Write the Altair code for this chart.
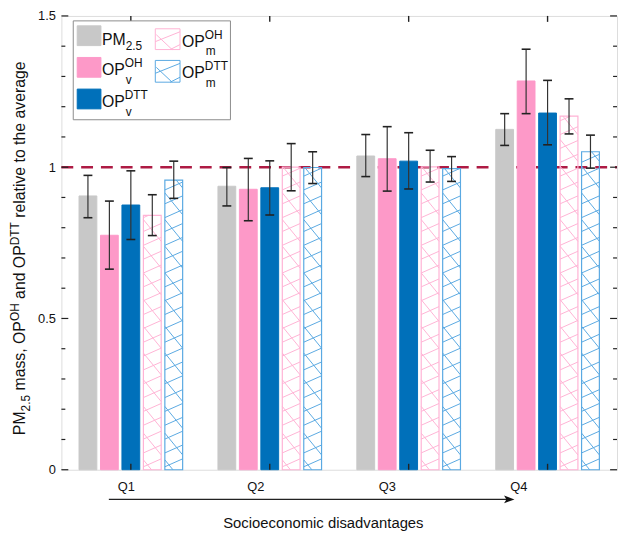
import altair as alt
import pandas as pd
import numpy as np

# ---------------- data ----------------
quartiles = ["Q1", "Q2", "Q3", "Q4"]
series_keys = ["pm", "ohv", "dttv", "ohm", "dttm"]

pm25 = [0.905, 0.937, 1.037, 1.125]
pm25_lo = [0.833, 0.872, 0.969, 1.072]
pm25_hi = [0.973, 0.999, 1.108, 1.177]

opv_oh = [0.775, 0.927, 1.028, 1.285]
opv_oh_lo = [0.663, 0.823, 0.921, 1.177]
opv_oh_hi = [0.888, 1.029, 1.134, 1.390]

opv_dtt = [0.875, 0.932, 1.020, 1.179]
opv_dtt_lo = [0.761, 0.842, 0.928, 1.074]
opv_dtt_hi = [0.988, 1.021, 1.114, 1.287]

opm_oh = [0.841, 1.000, 1.001, 1.169]
opm_oh_lo = [0.774, 0.922, 0.951, 1.110]
opm_oh_hi = [0.909, 1.078, 1.056, 1.226]

opm_dtt = [0.957, 0.999, 0.995, 1.051]
opm_dtt_lo = [0.897, 0.946, 0.953, 0.997]
opm_dtt_hi = [1.020, 1.051, 1.035, 1.106]

major_ticks = [0.0, 0.5, 1.0, 1.5]
minor_ticks = [0.1, 0.2, 0.3, 0.4, 0.6, 0.7, 0.8, 0.9, 1.1, 1.2, 1.3, 1.4]
reference_level = [1.0]

# ---------------- layout / style ----------------
LEFT, TOP = 62, 13          # page position of the plot area
W, H = 562, 459
KX = W / 4.0
KY = H / 1.5
STEP = 21.7 / KX
BW = 18.0 / KX
CAP = 4.5 / KX
FONT = "Liberation Sans"


def px(x):
    return x - LEFT


def py(y):
    return y - TOP


fills = ["#C8C8C8", "#FD99C8", "#0070BA", "#FFFFFF", "#FFFFFF"]
strokes = ["#C8C8C8", "#FD99C8", "#0070BA", "#FFB3D5", "#5AA9E2"]
INK = "#222222"

vals = [pm25, opv_oh, opv_dtt, opm_oh, opm_dtt]
los = [pm25_lo, opv_oh_lo, opv_dtt_lo, opm_oh_lo, opm_dtt_lo]
his = [pm25_hi, opv_oh_hi, opv_dtt_hi, opm_oh_hi, opm_dtt_hi]

rows = []
for j, k in enumerate(series_keys):
    for i, q in enumerate(quartiles):
        xc = i + 0.5 + (j - 2) * STEP
        rows.append(dict(series=k, q=q, val=vals[j][i], lo=los[j][i], hi=his[j][i],
                         xc=xc, x0=xc - BW / 2, x1=xc + BW / 2,
                         c0=xc - CAP, c1=xc + CAP, zero=0.0))
df = pd.DataFrame(rows)

xscale = alt.Scale(domain=[0, 4], nice=False, zero=False)
yscale = alt.Scale(domain=[0, 1.5], nice=False, zero=False)
yax = alt.Axis(values=major_ticks, ticks=False, domain=False, grid=False, title=None,
               labelFont=FONT, labelFontSize=13, labelColor="#111", labelPadding=6,
               format="~g")
color_fill = alt.Scale(domain=series_keys, range=fills)
color_stroke = alt.Scale(domain=series_keys, range=strokes)


def X(f):
    return alt.X(f, scale=xscale, axis=None)


def Y(f):
    return alt.Y(f, scale=yscale, axis=yax)


# ---------------- hatch segments ----------------
def hatch(x0, x1, top, rise, spacing, phase):
    hp = top * KY
    segs = []
    kmin = int(np.floor((-abs(rise) - phase) / spacing)) - 1
    kmax = int(np.ceil((hp + abs(rise)) / spacing)) + 1
    for k in range(kmin, kmax + 1):
        b = phase + k * spacing
        ta = (0 - b) / rise
        tb = (hp - b) / rise
        t0 = max(0.0, min(ta, tb))
        t1 = min(1.0, max(ta, tb))
        if t1 - t0 > 1e-3:
            segs.append(dict(hx0=x0 + (x1 - x0) * t0, hy0=(b + rise * t0) / KY,
                             hx1=x0 + (x1 - x0) * t1, hy1=(b + rise * t1) / KY))
    return segs


hrows = []
for r in rows:
    if r["series"] in ("ohm", "dttm"):
        for s in hatch(r["x0"], r["x1"], r["val"], 8.0, 14.0, 3.0):
            s["series"] = r["series"]
            hrows.append(s)
        for s in hatch(r["x0"], r["x1"], r["val"], -22.0, 27.0, 10.0):
            s["series"] = r["series"]
            hrows.append(s)
hdf = pd.DataFrame(hrows)

layers = []

# reference dashed line (behind solid bars)
layers.append(
    alt.Chart(pd.DataFrame({"y": reference_level})).mark_rule(
        color="#AE1B44", strokeWidth=2.6, strokeDash=[12, 8]
    ).encode(y=Y("y:Q"), x=alt.value(0), x2=alt.value(W))
)

solid = df[df.series.isin(["pm", "ohv", "dttv"])]
pat = df[df.series.isin(["ohm", "dttm"])]

layers.append(
    alt.Chart(solid).mark_rect(strokeWidth=1).encode(
        x=X("x0:Q"), x2="x1:Q", y=Y("val:Q"), y2="zero:Q",
        fill=alt.Fill("series:N", scale=color_fill, legend=None),
        stroke=alt.Stroke("series:N", scale=color_stroke, legend=None),
    )
)
layers.append(
    alt.Chart(hdf).mark_rule(strokeWidth=1).encode(
        x=X("hx0:Q"), x2="hx1:Q", y=Y("hy0:Q"), y2="hy1:Q",
        color=alt.Color("series:N", scale=color_stroke, legend=None),
    )
)
layers.append(
    alt.Chart(pat).mark_rect(strokeWidth=1.2, fillOpacity=0).encode(
        x=X("x0:Q"), x2="x1:Q", y=Y("val:Q"), y2="zero:Q",
        stroke=alt.Stroke("series:N", scale=color_stroke, legend=None),
    )
)

# error bars
layers.append(
    alt.Chart(df).mark_rule(color="#333333", strokeWidth=1.2).encode(
        x=X("xc:Q"), y=Y("lo:Q"), y2="hi:Q")
)
layers.append(
    alt.Chart(df).mark_rule(color="#222222", strokeWidth=1.6).encode(
        x=X("c0:Q"), x2="c1:Q", y=Y("lo:Q"))
)
layers.append(
    alt.Chart(df).mark_rule(color="#222222", strokeWidth=1.6).encode(
        x=X("c0:Q"), x2="c1:Q", y=Y("hi:Q"))
)

# inward ticks
tmaj = pd.DataFrame({"t": major_ticks})
tmin = pd.DataFrame({"t": minor_ticks})
for d, ln in ((tmaj, 7), (tmin, 4)):
    layers.append(alt.Chart(d).mark_rule(color=INK, strokeWidth=1.2).encode(
        y=Y("t:Q"), x=alt.value(0), x2=alt.value(ln)))
    layers.append(alt.Chart(d).mark_rule(color=INK, strokeWidth=1.2).encode(
        y=Y("t:Q"), x=alt.value(W - ln), x2=alt.value(W)))
qdf = pd.DataFrame({"q": quartiles, "qc": [i + 0.5 for i in range(4)]})
layers.append(alt.Chart(qdf).mark_rule(color=INK, strokeWidth=1.4).encode(
    x=X("qc:Q"), y=alt.value(H - 6), y2=alt.value(H)))
layers.append(alt.Chart(qdf).mark_rule(color=INK, strokeWidth=1.4).encode(
    x=X("qc:Q"), y=alt.value(0), y2=alt.value(6)))

one = pd.DataFrame({"a": [0]})


def txt(s, x, y, size, angle=0, align="left", baseline="alphabetic", color="#111111"):
    return alt.Chart(one).mark_text(
        text=s, font=FONT, fontSize=size, angle=angle, align=align,
        baseline=baseline, color=color
    ).encode(x=alt.value(x), y=alt.value(y))


def box(x0, x1, y0, y1, fill, stroke, sw=1.0, op=1.0):
    return alt.Chart(one).mark_rect(fill=fill, stroke=stroke, strokeWidth=sw, fillOpacity=op).encode(
        x=alt.value(px(x0)), x2=alt.value(px(x1)), y=alt.value(py(y0)), y2=alt.value(py(y1)))


def seg(x0, y0, x1, y1, color, sw=1.0):
    return alt.Chart(one).mark_rule(color=color, strokeWidth=sw).encode(
        x=alt.value(px(x0)), x2=alt.value(px(x1)), y=alt.value(py(y0)), y2=alt.value(py(y1)))


def ptxt(s, x, y, size, **kw):
    return txt(s, px(x), py(y), size, **kw)


# Arial / Liberation Sans widths (per em)
AW = {" ": .278, ",": .278, ".": .278, "0": .556, "1": .556, "2": .556, "5": .556,
      "P": .667, "M": .833, "O": .778, "H": .722, "D": .722, "T": .611,
      "a": .556, "d": .556, "e": .556, "g": .556, "h": .556, "i": .222, "l": .222,
      "m": .833, "n": .556, "o": .556, "r": .333, "s": .5, "t": .278, "v": .5}


def tw(s, size):
    return sum(AW.get(c, .556) for c in s) * size


# ---------------- legend (page coordinates) ----------------
layers.append(box(74, 233, 18, 118, "#FFFFFF", "#8C8C8C", 1.0))
layers.append(box(78, 102, 23, 43, fills[0], fills[0]))
layers.append(box(78, 102, 55, 75, fills[1], fills[1]))
layers.append(box(78, 102, 87, 107, fills[2], fills[2]))
layers.append(box(157, 182, 26, 47, "#FFFFFF", strokes[3], 1.0, 0))
layers.append(seg(157, 39, 182, 29, strokes[3]))
layers.append(seg(158, 32, 174, 47, strokes[3]))
layers.append(seg(172, 47, 182, 42, strokes[3]))
layers.append(box(157, 182, 58, 80, "#FFFFFF", strokes[4], 1.0, 0))
layers.append(seg(157, 71, 182, 61, strokes[4]))
layers.append(seg(158, 65, 174, 80, strokes[4]))
layers.append(seg(172, 80, 182, 75, strokes[4]))

LX = 103
op_w = tw("OP", 16)
layers.append(ptxt("PM", LX, 42, 16))
layers.append(ptxt("2.5", LX + tw("PM", 16), 47, 12))
layers.append(ptxt("OP", LX, 73, 16))
layers.append(ptxt("OH", LX + op_w, 65, 12))
layers.append(ptxt("v", LX + op_w + 1, 82, 12))
layers.append(ptxt("OP", LX, 105, 16))
layers.append(ptxt("DTT", LX + op_w, 97, 12))
layers.append(ptxt("v", LX + op_w + 1, 114, 12))
CX = 184
layers.append(ptxt("OP", CX, 44, 16))
layers.append(ptxt("OH", CX + op_w, 36, 12))
layers.append(ptxt("m", CX + op_w + 1, 53, 12))
layers.append(ptxt("OP", CX, 76, 16))
layers.append(ptxt("DTT", CX + op_w, 68, 12))
layers.append(ptxt("m", CX + op_w + 1, 85, 12))

# ---------------- y title (rotated rich text) ----------------
ytitle = [("PM", 16, 0), ("2.5", 12, 5), (" mass, OP", 16, 0), ("OH", 12, -6),
          (" and OP", 16, 0), ("DTT", 12, -6), (" relative to the average", 16, 0)]
ypos = 437.0
BASE_X = 25
for s, size, shift in ytitle:
    lead = len(s) - len(s.lstrip(" "))
    ypos -= tw(" " * lead, size)
    core = s.strip(" ")
    layers.append(ptxt(core, BASE_X + shift, ypos, size, angle=270))
    ypos -= tw(core, size)

# ---------------- x annotation ----------------
for q, lx in zip(quartiles, [119, 250, 383, 516]):
    layers.append(ptxt(q, lx, 494, 13))
layers.append(seg(110, 502, 514, 502, "#222222", 1.3))
layers.append(
    alt.Chart(one).mark_point(
        shape="M 1 0 L -1 -0.75 L -0.55 0 L -1 0.75 Z", filled=True, size=110,
        color="#111111", opacity=1
    ).encode(x=alt.value(px(515)), y=alt.value(py(502)))
)
layers.append(ptxt("Socioeconomic disadvantages", 327, 531, 15, align="center"))

chart = alt.layer(*layers).properties(
    width=W, height=H,
    autosize=alt.AutoSizeParams(type="none"),
    padding={"left": 54, "top": 5, "right": 2, "bottom": 64},
).configure_view(stroke="#1E1E1E", strokeWidth=1.6).configure(background="white")

chart.save("out.html", embed_options={"renderer": "svg", "actions": False})
